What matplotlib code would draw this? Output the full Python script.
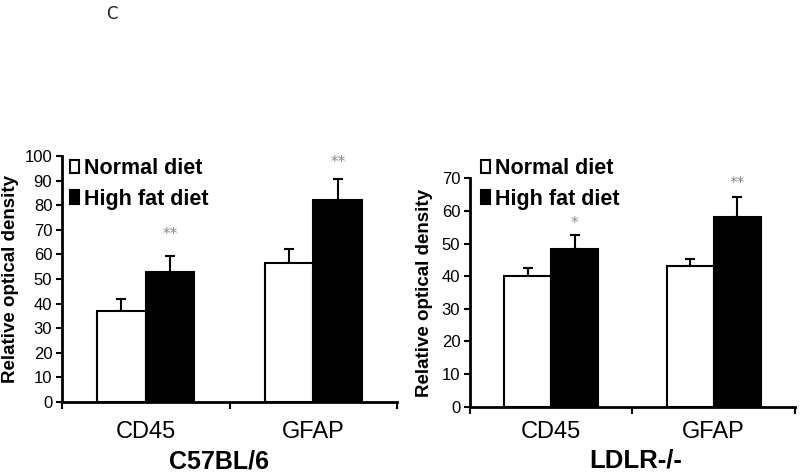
import matplotlib
matplotlib.use("Agg")
import matplotlib.pyplot as plt
import numpy as np

# values
categories = ["CD45", "GFAP"]
groups = ["Normal diet", "High fat diet"]

c57_normal = [37, 56.5]
c57_normal_err = [5, 5.7]
c57_hfd = [53, 82]
c57_hfd_err = [6.3, 8.5]
c57_stars = ["**", "**"]
c57_star_y = [68, 97.5]

ldlr_normal = [40, 43]
ldlr_normal_err = [2.6, 2.4]
ldlr_hfd = [48.2, 58.2]
ldlr_hfd_err = [4.4, 6.0]
ldlr_stars = ["*", "**"]
ldlr_star_y = [56, 68.5]

plt.rcParams["font.family"] = ["Liberation Sans", "DejaVu Sans"]

fig = plt.figure(figsize=(8, 4.76), dpi=100)


def panel(rect, normal, nerr, hfd, herr, stars, star_y, ymax, cat_pad, label_x, leg_x):
    ax = fig.add_axes(rect)
    x = np.arange(len(categories))
    w = 0.29
    ax.bar(x - w / 2, normal, w, color="white", edgecolor="black", linewidth=1.5,
           label=groups[0], zorder=2)
    ax.bar(x + w / 2, hfd, w, color="black", edgecolor="black", linewidth=1.5,
           label=groups[1], zorder=2)
    ax.errorbar(x - w / 2, normal, yerr=[np.zeros(len(nerr)), nerr], fmt="none",
                ecolor="black", elinewidth=1.5, capsize=3.5, capthick=1.5, zorder=1)
    ax.errorbar(x + w / 2, hfd, yerr=[np.zeros(len(herr)), herr], fmt="none",
                ecolor="black", elinewidth=1.5, capsize=3.5, capthick=1.5, zorder=1)
    for xi, s, sy in zip(x, stars, star_y):
        ax.text(xi + w / 2, sy, s, ha="center", va="center", fontsize=11,
                color="#888888", family="DejaVu Sans")

    ax.set_xlim(-0.5, 1.5)
    ax.set_ylim(0, ymax)
    ax.set_yticks(np.arange(0, ymax + 1, 10))
    ax.set_xticks([-0.5, 0.5, 1.5])
    ax.set_xticklabels([])
    ax.set_xticks(x, minor=True)
    ax.set_xticklabels(categories, minor=True, fontsize=17)
    ax.tick_params(axis="x", which="minor", length=0, pad=cat_pad)
    ax.tick_params(axis="x", which="major", length=5, width=1.5, direction="out")
    ax.tick_params(axis="y", length=4, width=1.5, labelsize=12, pad=3)
    for sp in ["top", "right"]:
        ax.spines[sp].set_visible(False)
    for sp in ["left", "bottom"]:
        ax.spines[sp].set_linewidth(2)
    ax.set_ylabel("Relative optical density", fontsize=13.5, fontweight="bold")
    ax.yaxis.set_label_coords(label_x, 0.5)
    ax.legend(loc="upper left", bbox_to_anchor=(leg_x, 0.668),
              bbox_transform=fig.transFigure, frameon=False,
              prop={"weight": "bold", "size": 15.5}, handlelength=0.4,
              handleheight=0.6, handletextpad=0.25, labelspacing=0.45,
              borderaxespad=0, borderpad=0)
    return ax


panel([0.0775, 0.1555, 0.419, 0.5165], c57_normal, c57_normal_err, c57_hfd,
      c57_hfd_err, c57_stars, c57_star_y, 100, 14, -0.128, 0.088)
panel([0.5875, 0.1456, 0.406, 0.4798], ldlr_normal, ldlr_normal_err, ldlr_hfd,
      ldlr_hfd_err, ldlr_stars, ldlr_star_y, 70, 10.5, -0.115, 0.6015)

fig.text(219.5 / 800, 1 - 461.5 / 476, "C57BL/6", ha="center", va="center",
         fontsize=18, fontweight="bold")
fig.text(636 / 800, 1 - 460 / 476, "LDLR-/-", ha="center", va="center",
         fontsize=18.5, fontweight="bold")
fig.text(112 / 800, 1 - 14 / 476, "C", ha="center", va="center", fontsize=12,
         family="DejaVu Sans", color="#222222")

fig.savefig("out.png", dpi=100)
